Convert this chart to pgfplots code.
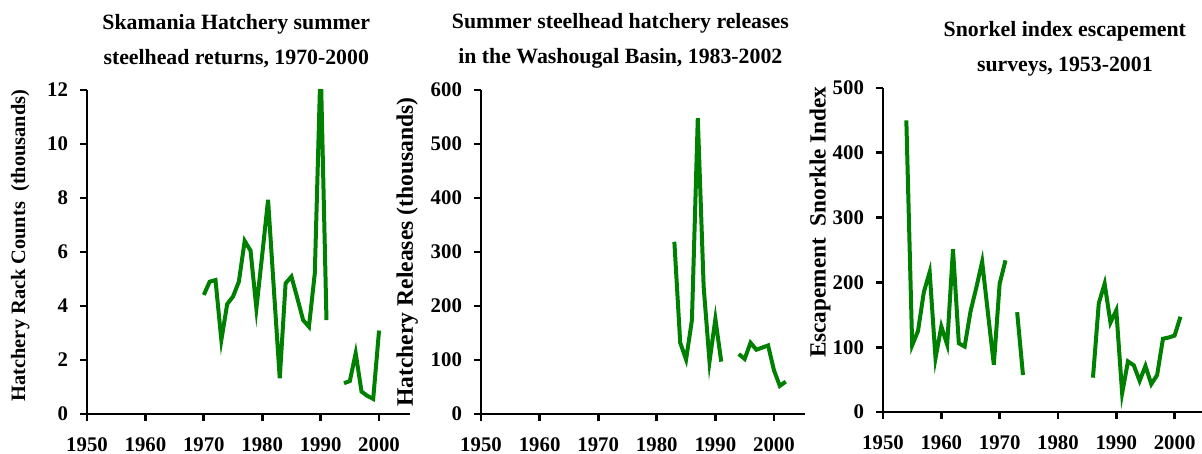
\documentclass[border=0pt]{standalone}
\usepackage{fontspec}
\setmainfont{Liberation Serif}
\usepackage{pgfplots}
\pgfplotsset{compat=1.18}
\definecolor{lg}{RGB}{0,128,0}
\pgfplotsset{
 panel/.style={
  scale only axis, height=162pt,
  axis x line*=bottom, axis y line*=left,
  axis line style={line width=1.4pt,-},
  xmin=1950, xtick={1950,1960,...,2000},
  tick align=outside, major tick length=3.5pt,
  tick style={line width=1.4pt, black},
  /pgf/number format/assume math mode=true,
  /pgf/number format/1000 sep={},
  ticklabel style={font=\bfseries\fontsize{10.4}{12}\selectfont},
  xticklabel style={yshift=-4.8pt},
  yticklabel style={xshift=-2.5pt},
  ylabel style={font=\bfseries\fontsize{10.2}{12}\selectfont, anchor=center},
  title style={font=\bfseries\fontsize{10.9}{17.5}\selectfont, align=center, anchor=center},
  unbounded coords=jump,
 }
}
\pgfplotstableread{
year val
1970 4.41
1971 4.90
1972 4.96
1973 2.74
1974 4.07
1975 4.35
1976 4.90
1977 6.41
1978 6.05
1979 3.91
1980 5.90
1981 7.93
1982 4.60
1983 1.32
1984 4.84
1985 5.09
1986 4.30
1987 3.48
1988 3.23
1989 5.21
1990 13.0
1991 3.48
1992 nan
1994 1.14
1995 1.22
1996 2.25
1997 0.83
1998 0.67
1999 0.56
2000 3.09
}\skamania
\pgfplotstableread{
year val
1983 319
1984 132
1985 101
1986 174
1987 548
1988 236
1989 97
1990 176
1991 97
1992 nan
1994 111
1995 102
1996 132
1997 119
1998 123
1999 127
2000 81
2001 52
2002 60
}\releases
\pgfplotstableread{
year val
1954 450
1955 103
1956 125
1957 185
1958 216
1959 83
1960 132
1961 104
1962 251
1963 106
1964 101
1965 155
1966 192
1967 232
1968 152
1969 73
1970 198
1971 234
1972 nan
1973 154
1974 57
1975 nan
1986 53
1987 168
1988 198
1989 138
1990 157
1991 29
1992 78
1993 72
1994 48
1995 71
1996 43
1997 57
1998 113
1999 115
2000 118
2001 147
}\snorkel
\begin{document}
\begin{tikzpicture}
\useasboundingbox (0,0) rectangle (601pt,227pt);
\begin{axis}[panel, at={(43.5pt,20pt)}, anchor=south west,
  width=161.5pt, xmax=2005.3,
  ymin=0, ymax=12, ytick={0,2,...,12},
  ylabel={Hatchery Rack Counts\ \ (thousands)},
  ylabel style={at={(axis description cs:-0.207,0.52)}},
  title={Skamania Hatchery summer\\steelhead returns, 1970-2000},
  title style={at={(axis description cs:0.462,1.115)}}]
\addplot[lg, line width=2pt, no markers] table[x=year,y=val] {\skamania};
\end{axis}
\begin{axis}[panel, at={(240.5pt,20pt)}, anchor=south west,
  width=162pt, xmax=2005.3,
  ymin=0, ymax=600, ytick={0,100,...,600},
  ylabel={Hatchery Releases (thousands)},
  ylabel style={at={(axis description cs:-0.228,0.5)}, font=\bfseries\fontsize{11.8}{13}\selectfont},
  title={Summer steelhead hatchery releases\\in the Washougal Basin, 1983-2002},
  title style={at={(axis description cs:0.43,1.115)}}]
\addplot[lg, line width=2pt, no markers] table[x=year,y=val] {\releases};
\end{axis}
\begin{axis}[panel, at={(441.5pt,21pt)}, anchor=south west,
  width=159.5pt, xmax=2004.7,
  ymin=0, ymax=500, ytick={0,100,...,500},
  ylabel={Escapement\ \ Snorkle Index},
  ylabel style={at={(axis description cs:-0.197,0.586)}, font=\bfseries\fontsize{11.6}{13}\selectfont},
  title={Snorkel index escapement\\surveys, 1953-2001},
  title style={at={(axis description cs:0.57,1.085)}}]
\addplot[lg, line width=2pt, no markers] table[x=year,y=val] {\snorkel};
\end{axis}
\end{tikzpicture}
\end{document}
